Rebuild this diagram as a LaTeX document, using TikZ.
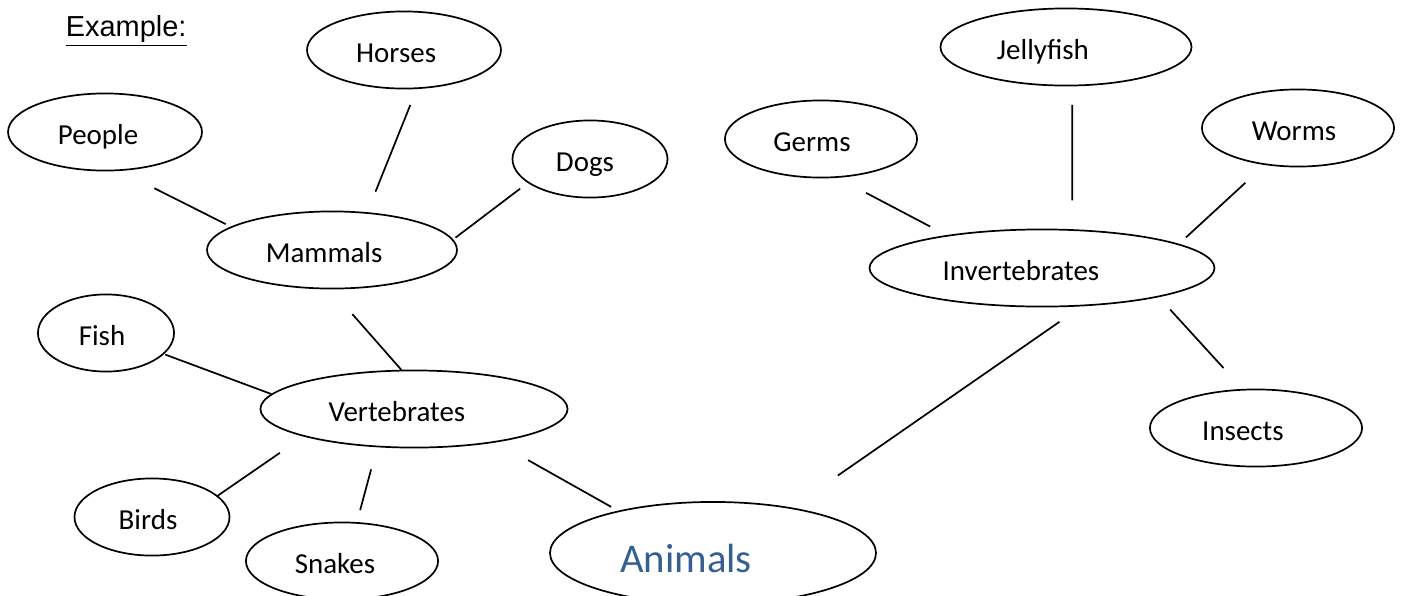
\documentclass[tikz,border=0pt]{standalone}
\usepackage{fontspec}
\setmainfont{Carlito}
\newfontfamily\arialfont{Liberation Sans}
\usetikzlibrary{shapes.geometric}
\definecolor{headblue}{HTML}{365F91}

\begin{document}
\begin{tikzpicture}[x=0.38pt, y=-0.38pt, line width=0.65pt, font=\fontsize{11}{13}\selectfont,
		main/.style = {draw, ellipse, inner sep=0pt, minimum height=29.3pt, text height=10pt, text depth=0.8pt}]
		\useasboundingbox (0,0) rectangle (1401,595);
		\node[anchor=base west, inner sep=0pt, font=\arialfont\fontsize{11}{13}\selectfont] (title) at (65,36) {\underline{Example:}};
		% vertebrates side
		\node[main, minimum width=73.7pt] (people) at (105,132) {People\kern5.3pt};
		\node[main, minimum width=73.7pt] (horses) at (404,50) {Horses\kern6pt};
		\node[main, minimum width=58.9pt] (dogs) at (590,159) {Dogs\kern3.8pt};
		\node[main, minimum width=95pt] (mammals) at (332,250) {Mammals\kern6pt};
		\node[main, minimum width=51.7pt] (fish) at (106,333) {Fish\kern3pt};
		\node[main, minimum width=116.7pt] (vertebrates) at (414,409) {Vertebrates\kern13pt};
		\node[main, minimum width=58.9pt] (birds) at (152,517) {Birds\kern3pt};
		\node[main, minimum width=73pt] (snakes) at (342,561) {Snakes\kern5.3pt};
		\node[main, minimum width=123.9pt, minimum height=38.8pt, text height=15.5pt, text depth=0.5pt, text=headblue, font=\fontsize{15.5}{18}\selectfont] (animals) at (713,553) {Animals\kern20.5pt};
		% invertebrates side
		\node[main, minimum width=73pt] (germs) at (821,139) {Germs\kern6.8pt};
		\node[main, minimum width=95.4pt] (jellyfish) at (1066,47) {Jellyfish\kern17.5pt};
		\node[main, minimum width=73pt] (worms) at (1298,128) {Worms\kern3pt};
		\node[main, minimum width=131.1pt] (invertebrates) at (1042,268) {Invertebrates\kern16pt};
		\node[main, minimum width=80.6pt] (insects) at (1256,428) {Insects\kern9.9pt};
		\draw[shorten <=14.6pt, shorten >=2.1pt] (people.-69) -- (mammals.167);
		\draw[shorten <=6.5pt, shorten >=8.4pt] (horses.-72) -- (mammals.47);
		\draw[shorten <=3.6pt, shorten >=1.1pt] (dogs.201) -- (mammals.5);
		\draw[shorten <=12.5pt] (mammals.-92) -- (vertebrates.108);
		\draw[shorten <=0.5pt] (fish.-20) -- (vertebrates.174);
		\draw[shorten >=10.9pt] (birds.18) -- (vertebrates.194);
		\draw[shorten <=4.7pt, shorten >=8.7pt] (snakes.69) -- (vertebrates.-134);
		\draw[shorten <=13.8pt, shorten >=3pt] (vertebrates.-22) -- (animals.156);
		\draw[shorten <=21.3pt, shorten >=10.3pt] (animals.30) -- (invertebrates.-44);
		\draw[shorten <=12.3pt, shorten >=7pt] (germs.-67) -- (invertebrates.161);
		\draw[shorten <=7pt, shorten >=11pt] (jellyfish.-81) -- (invertebrates.52);
		\draw[shorten <=10pt, shorten >=3.6pt] (worms.-132) -- (invertebrates.10);
		\draw[shorten <=6.4pt, shorten >=10.7pt] (invertebrates.-14) -- (insects.109);
	\end{tikzpicture}
\end{document}
